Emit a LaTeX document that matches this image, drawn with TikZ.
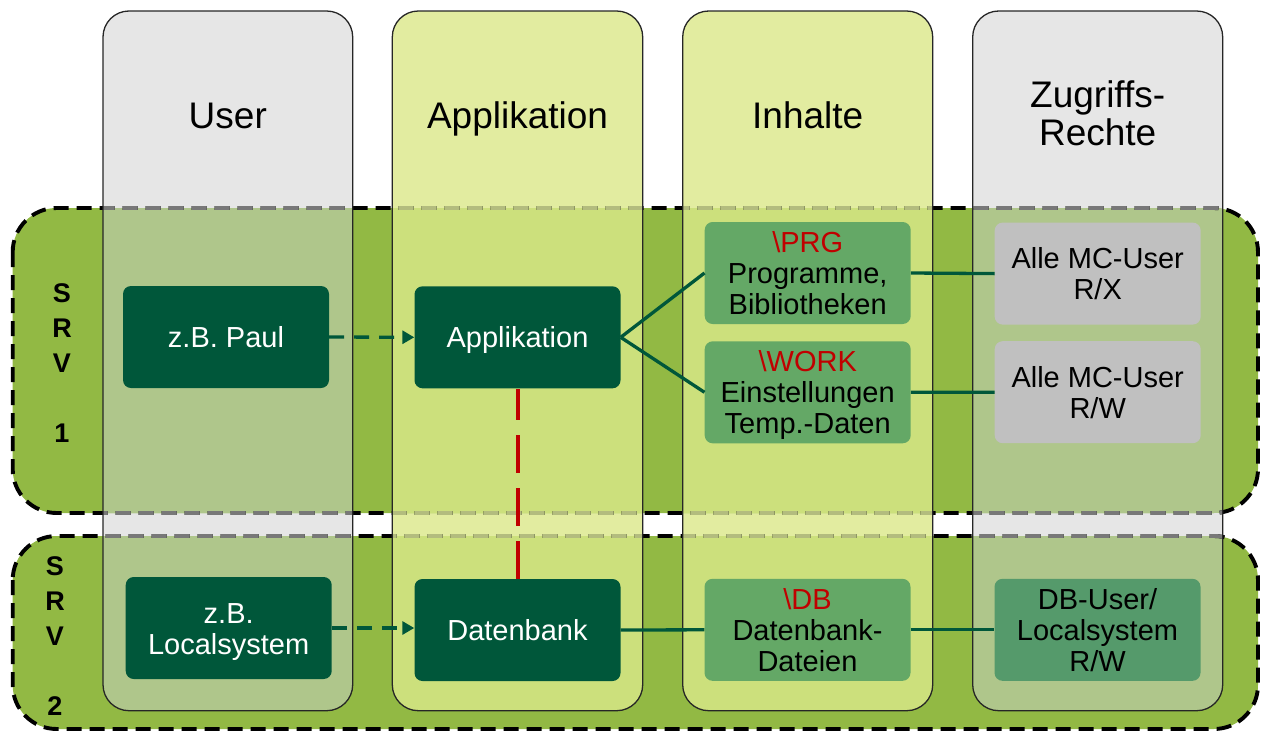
\documentclass[tikz,border=0pt]{standalone}
\usepackage{fontspec}
\setmainfont{Liberation Sans}
\usetikzlibrary{arrows.meta}

\definecolor{colgrey}{HTML}{E6E6E6}
\definecolor{colyellow}{HTML}{E2ECA0}
\definecolor{bandgreen}{HTML}{92B944}
\definecolor{ovgrey}{HTML}{AFC68B}
\definecolor{ovyellow}{HTML}{CCE07C}
\definecolor{dashgrey}{HTML}{787878}
\definecolor{dashyellow}{HTML}{B3BC7E}
\definecolor{darkgreen}{HTML}{00573A}
\definecolor{midgreen}{HTML}{64A866}
\definecolor{dbgreen}{HTML}{559A6B}
\definecolor{boxgrey}{HTML}{C0C0C0}
\definecolor{dirred}{HTML}{C00000}

\begin{document}
\begin{tikzpicture}[x=1pt,y=-1pt,
  banddash/.style={line width=3.9pt, dash pattern=on 15pt off 8pt, draw=black},
  colborder/.style={line width=1.3pt, draw=black!85, rounded corners=26pt},
  title/.style={font=\fontsize{37}{38.5}\selectfont, align=center, inner sep=0pt, text height=26.5pt, text depth=0pt},
  srv/.style={font=\fontsize{27}{35}\selectfont\bfseries, align=center, inner sep=0pt, text height=159.3pt, text depth=0pt},
  box/.style={rounded corners=8pt, minimum width=206pt, minimum height=102pt, inner sep=0pt,
    align=center, font=\fontsize{29}{31}\selectfont, text depth=0pt},
  one/.style={text height=21pt},
  two/.style={text height=52pt},
  three/.style={text height=83pt},
  dark/.style={box, fill=darkgreen, text=white},
  mid/.style={box, fill=midgreen, text=black},
  right box/.style={box, fill=boxgrey, text=black},
  db box/.style={box, fill=dbgreen, text=black},
  conn/.style={line width=3.3pt, draw=darkgreen},
  flow/.style={conn, dash pattern=on 15pt off 10pt, -{Triangle[length=12pt,width=13pt]}},
  redlink/.style={line width=4pt, draw=dirred, dash pattern=on 37.5pt off 15.5pt}
]
\useasboundingbox (0,0) rectangle (1264,731);

% column backgrounds
\foreach \xa/\xb/\c in {103/352.7/colgrey, 392.3/642.7/colyellow, 682.7/932.7/colyellow, 972.7/1222.7/colgrey}
  \fill[\c, rounded corners=26pt] (\xa,11) rectangle (\xb,710.7);

% server bands
\foreach \ya/\yb in {208/513, 536/729}
  \fill[bandgreen, rounded corners=44pt] (12.7,\ya) rectangle (1258,\yb);

% where a column crosses a band
\foreach \ya/\yb in {208/513, 536/729}{
  \begin{scope}
    \clip[rounded corners=44pt] (12.7,\ya) rectangle (1258,\yb);
    \foreach \xa/\xb/\c in {103/352.7/ovgrey, 392.3/642.7/ovyellow, 682.7/932.7/ovyellow, 972.7/1222.7/ovgrey}
      \fill[\c, rounded corners=26pt] (\xa,11) rectangle (\xb,710.7);
  \end{scope}
}

% band outlines
\foreach \ya/\yb in {208/513, 536/729}
  \draw[banddash, rounded corners=44pt] (12.7,\ya) rectangle (1258,\yb);

% band outlines seen through the columns
\foreach \xa/\xb/\c in {103/352.7/dashgrey, 392.3/642.7/dashyellow, 682.7/932.7/dashyellow, 972.7/1222.7/dashgrey}{
  \begin{scope}
    \clip[rounded corners=26pt] (\xa,11) rectangle (\xb,710.7);
    \foreach \ya/\yb in {208/513, 536/729}
      \draw[banddash, draw=\c, rounded corners=44pt] (12.7,\ya) rectangle (1258,\yb);
  \end{scope}
}

% column outlines
\foreach \xa/\xb in {103/352.7, 392.3/642.7, 682.7/932.7, 972.7/1222.7}
  \draw[colborder] (\xa,11) rectangle (\xb,710.7);

% column titles
\node[title] (tuser) at (227.8,115) {User};
\node[title] (tapp)  at (517.5,115) {Applikation};
\node[title] (tinh)  at (807.7,115) {Inhalte};
\node[title, text height=65pt] (trights) at (1097.7,113.4) {Zugriffs-\\Rechte};

% server labels
\node[srv] (srv1) at (62,363) {S\\R\\V\\[35pt]1};
\node[srv] (srv2) at (55,636) {S\\R\\V\\[35pt]2};

% server 1
\node[dark, one] (paul) at (226,337) {z.B. Paul};
\node[dark, one] (app) at (517.5,337.3) {Applikation};
\node[mid, three] (prg) at (807.7,273) {{\color{dirred}\textbackslash PRG}\\Programme,\\Bibliotheken};
\node[mid, three] (work) at (807.7,392.3) {{\color{dirred}\textbackslash WORK}\\Einstellungen\\Temp.-Daten};
\node[right box, two] (rx) at (1097.7,273.6) {Alle MC-User\\R/X};
\node[right box, two] (rw) at (1097.7,392.2) {Alle MC-User\\R/W};

% server 2
\node[dark, two] (ls) at (228.7,628) {z.B.\\Localsystem};
\node[dark, one] (db) at (517.5,630) {Datenbank};
\node[mid, three] (dbf) at (807.5,629.8) {{\color{dirred}\textbackslash DB}\\Datenbank-\\Dateien};
\node[db box, three] (dbu) at (1097.5,629.8) {DB-User/\\Localsystem\\R/W};

% connectors
\draw[flow] (paul.east) -- (app.west);
\draw[flow] (ls.east) -- (ls.east -| db.west);
\draw[conn] (app.east) -- (prg.west);
\draw[conn] (app.east) -- (work.west);
\draw[conn] (prg.east) -- (rx.west);
\draw[conn] (work.east) -- (rw.west);
\draw[conn] (db.east) -- (dbf.west);
\draw[conn] (dbf.east) -- (dbu.west);
\draw[redlink] (db.north) -- (app.south);
\end{tikzpicture}
\end{document}
